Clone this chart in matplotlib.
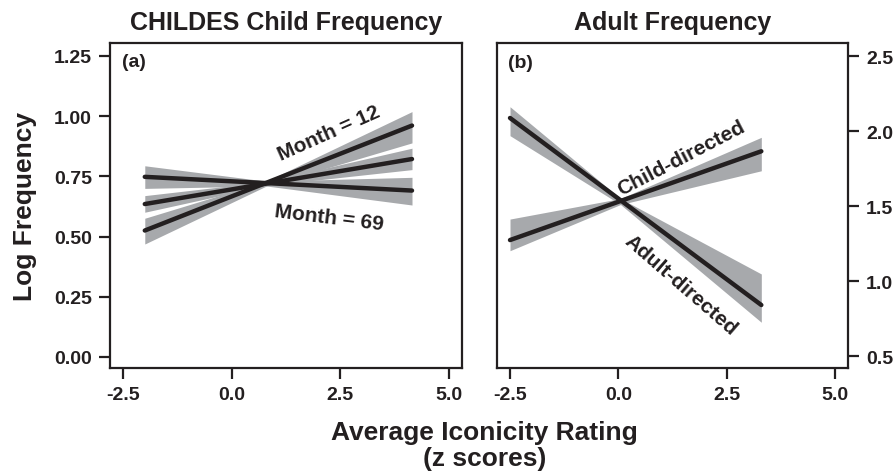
import matplotlib
matplotlib.use("Agg")
import matplotlib.pyplot as plt
import numpy as np

plt.rcParams["font.family"] = ["Liberation Sans", "DejaVu Sans"]
plt.rcParams["font.weight"] = "bold"

INK = "#231f20"
BAND = "#a7a9ac"

# --- panel (a): CHILDES child frequency, by month ---
x_a = [-2.0, 0.8, 4.15]
m12_fit = [0.525, 0.72, 0.961]
m12_lo = [0.469, 0.71, 0.889]
m12_hi = [0.576, 0.73, 1.019]
mid_fit = [0.635, 0.72, 0.822]
mid_lo = [0.601, 0.712, 0.778]
mid_hi = [0.670, 0.728, 0.867]
m69_fit = [0.748, 0.72, 0.691]
m69_lo = [0.700, 0.71, 0.631]
m69_hi = [0.794, 0.73, 0.746]

# --- panel (b): adult frequency ---
x_b = [-2.5, 0.05, 3.3]
adult_fit = [2.087, 1.53, 0.84]
adult_lo = [1.969, 1.51, 0.725]
adult_hi = [2.162, 1.55, 1.047]
child_fit = [1.273, 1.53, 1.865]
child_lo = [1.202, 1.51, 1.735]
child_hi = [1.413, 1.55, 1.958]

xticks = [-2.5, 0.0, 2.5, 5.0]
yticks_a = [0.00, 0.25, 0.50, 0.75, 1.00, 1.25]
yticks_b = [0.5, 1.0, 1.5, 2.0, 2.5]

fig = plt.figure(figsize=(8.96, 4.77), dpi=100)
ax_a = fig.add_axes([0.1228, 0.2264, 0.3928, 0.6814])
ax_b = fig.add_axes([0.5547, 0.2264, 0.3917, 0.6814])


def style(ax):
    for sp in ax.spines.values():
        sp.set_linewidth(1.6)
        sp.set_color(INK)
    ax.tick_params(direction="out", length=8, width=1.6, color=INK,
                   labelsize=14, labelcolor=INK, pad=5)
    for lab in ax.get_xticklabels() + ax.get_yticklabels():
        lab.set_fontweight("bold")


for lo, hi, fit in [(m12_lo, m12_hi, m12_fit), (mid_lo, mid_hi, mid_fit),
                    (m69_lo, m69_hi, m69_fit)]:
    ax_a.fill_between(x_a, lo, hi, color=BAND, lw=0)
for fit in [m12_fit, mid_fit, m69_fit]:
    ax_a.plot([x_a[0], x_a[-1]], [fit[0], fit[-1]], color=INK, lw=3.2,
              solid_capstyle="round")

ax_a.set_xlim(-2.8, 5.3)
ax_a.set_ylim(-0.046, 1.304)
ax_a.set_xticks(xticks)
ax_a.set_xticklabels([f"{t:.1f}" for t in xticks])
ax_a.set_yticks(yticks_a)
ax_a.set_yticklabels([f"{t:.2f}" for t in yticks_a])
style(ax_a)
ax_a.set_title("CHILDES Child Frequency", fontsize=18, fontweight="bold",
               color=INK, pad=10)
ax_a.set_ylabel("Log Frequency", fontsize=19, fontweight="bold", color=INK,
                labelpad=12)
ax_a.text(-2.25, 1.225, "(a)", fontsize=14, fontweight="bold", color=INK,
          ha="center", va="center")
ax_a.text(2.23, 0.93, "Month = 12", fontsize=15, fontweight="bold", color=INK,
          ha="center", va="center", rotation=24, rotation_mode="anchor")
ax_a.text(2.23, 0.581, "Month = 69", fontsize=15, fontweight="bold", color=INK,
          ha="center", va="center", rotation=-7, rotation_mode="anchor")

for lo, hi in [(adult_lo, adult_hi), (child_lo, child_hi)]:
    ax_b.fill_between(x_b, lo, hi, color=BAND, lw=0)
for fit in [adult_fit, child_fit]:
    ax_b.plot([x_b[0], x_b[-1]], [fit[0], fit[-1]], color=INK, lw=3.2,
              solid_capstyle="round")

ax_b.set_xlim(-2.8, 5.3)
ax_b.set_ylim(0.42, 2.587)
ax_b.set_xticks(xticks)
ax_b.set_xticklabels([f"{t:.1f}" for t in xticks])
ax_b.yaxis.tick_right()
ax_b.set_yticks(yticks_b)
ax_b.set_yticklabels([f"{t:.1f}" for t in yticks_b])
style(ax_b)
ax_b.set_title("Adult Frequency", fontsize=18, fontweight="bold", color=INK,
               pad=10)
ax_b.text(-2.27, 2.46, "(b)", fontsize=14, fontweight="bold", color=INK,
          ha="center", va="center")
ax_b.text(1.44, 1.825, "Child-directed", fontsize=15, fontweight="bold",
          color=INK, ha="center", va="center", rotation=27.5,
          rotation_mode="anchor")
ax_b.text(1.43, 0.98, "Adult-directed", fontsize=15, fontweight="bold",
          color=INK, ha="center", va="center", rotation=-41,
          rotation_mode="anchor")

fig.text(0.541, 0.092, "Average Iconicity Rating", fontsize=19,
         fontweight="bold", color=INK, ha="center", va="center")
fig.text(0.541, 0.038, "(z scores)", fontsize=19, fontweight="bold",
         color=INK, ha="center", va="center")

fig.savefig("out.png", dpi=100)
